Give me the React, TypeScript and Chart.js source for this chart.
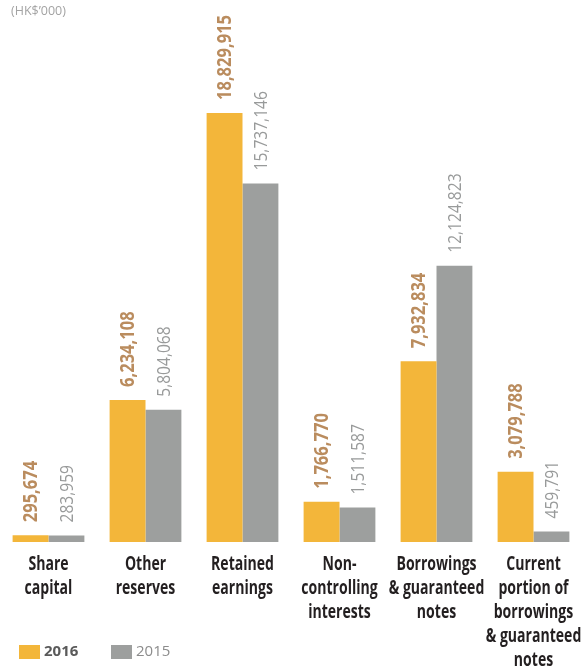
import React, { useEffect, useRef } from "react";
import { Chart, registerables } from "chart.js";

Chart.register(...registerables);

const categories: string[][] = [
  ["Share", "capital"],
  ["Other", "reserves"],
  ["Retained", "earnings"],
  ["Non-", "controlling", "interests"],
  ["Borrowings", "& guaranteed", "notes"],
  ["Current", "portion of", "borrowings", "& guaranteed", "notes"],
];
const seriesNames = ["2016", "2015"];
const values2016 = [295674, 6234108, 18829915, 1766770, 7932834, 3079788];
const values2015 = [283959, 5804068, 15737146, 1511587, 12124823, 459791];
const unitLabel = "(HK$\u2019000)";

const COLOR_2016 = "#F3B63A";
const COLOR_2015 = "#9D9F9E";
const LABEL_2016 = "#BA8C5E";
const LABEL_2015 = "#989A9A";
const FONT = "'Open Sans', 'DejaVu Sans', sans-serif";

const valueLabelPlugin = {
  id: "valueLabels",
  afterDatasetsDraw(chart: any) {
    const ctx = chart.ctx;
    chart.data.datasets.forEach((ds: any, di: number) => {
      const meta = chart.getDatasetMeta(di);
      meta.data.forEach((bar: any, i: number) => {
        const v = ds.data[i] as number;
        ctx.save();
        ctx.translate(bar.x + 1, bar.y - 13);
        ctx.rotate(-Math.PI / 2);
        ctx.scale(di === 0 ? 0.87 : 0.82, 1);
        ctx.textAlign = "left";
        ctx.textBaseline = "middle";
        ctx.font = (di === 0 ? "bold " : "") + "19px " + FONT;
        ctx.fillStyle = di === 0 ? LABEL_2016 : LABEL_2015;
        ctx.fillText(v.toLocaleString("en-US"), 0, 0);
        ctx.restore();
      });
    });
  },
};

const categoryLabelPlugin = {
  id: "categoryLabels",
  afterDraw(chart: any) {
    const ctx = chart.ctx;
    const xs = chart.scales.x;
    const top = chart.chartArea.bottom;
    ctx.save();
    ctx.font = "bold 19px " + FONT;
    ctx.fillStyle = "#231F20";
    ctx.textAlign = "center";
    ctx.textBaseline = "middle";
    (chart.data.labels as string[][]).forEach((lines, i) => {
      const cx = xs.getPixelForValue(i);
      lines.forEach((line, j) => {
        ctx.save();
        ctx.translate(cx, top + 23 + j * 23.8);
        ctx.scale(0.74, 1);
        ctx.fillText(line, 0, 0);
        ctx.restore();
      });
    });
    ctx.restore();
  },
};

const extrasPlugin = {
  id: "extras",
  afterDraw(chart: any) {
    const ctx = chart.ctx;
    ctx.save();
    ctx.font = "12.5px " + FONT;
    ctx.fillStyle = "#A3A3A3";
    ctx.textAlign = "left";
    ctx.textBaseline = "middle";
    ctx.fillText(unitLabel, 11, 11);
    const items = chart.data.datasets.map((ds: any, i: number) => ({
      text: ds.label,
      color: ds.backgroundColor,
      bold: i === 0,
      x: i === 0 ? 19 : 111,
    }));
    items.forEach((it: any) => {
      ctx.fillStyle = it.color;
      ctx.fillRect(it.x, 645, 21, 14);
      ctx.font = (it.bold ? "bold " : "") + "15px " + FONT;
      ctx.fillStyle = it.bold ? "#5A5A5A" : "#8C8C8C";
      ctx.textBaseline = "middle";
      ctx.fillText(it.text, it.x + 25, 652);
    });
    ctx.restore();
  },
};

export default function App() {
  const ref = useRef<HTMLCanvasElement | null>(null);
  useEffect(() => {
    if (!ref.current) return;
    const chart = new Chart(ref.current, {
      type: "bar",
      data: {
        labels: categories as any,
        datasets: [
          {
            label: seriesNames[0],
            data: values2016,
            backgroundColor: COLOR_2016,
            categoryPercentage: 0.74,
            barPercentage: 1,
          },
          {
            label: seriesNames[1],
            data: values2015,
            backgroundColor: COLOR_2015,
            categoryPercentage: 0.74,
            barPercentage: 1,
          },
        ],
      },
      options: {
        animation: false,
        responsive: false,
        devicePixelRatio: 1,
        layout: { padding: { top: 20, left: 0, right: 0, bottom: 0 } },
        plugins: {
          legend: { display: false },
          tooltip: { enabled: false },
          title: { display: false },
        },
        scales: {
          x: {
            grid: { display: false, drawTicks: false },
            border: { display: false },
            ticks: { display: false },
            afterFit: (scale: any) => {
              scale.height = 127;
              scale.paddingLeft = 0;
              scale.paddingRight = 0;
            },
          },
          y: {
            display: false,
            min: 0,
            max: 22912000,
          },
        },
      },
      plugins: [valueLabelPlugin, categoryLabelPlugin, extrasPlugin],
    });
    return () => chart.destroy();
  }, []);
  return (
    <div style={{ position: "fixed", left: 0, top: 0, width: 582, height: 669, background: "#fff" }}>
      <canvas ref={ref} width={582} height={669} style={{ display: "block" }} />
    </div>
  );
}
